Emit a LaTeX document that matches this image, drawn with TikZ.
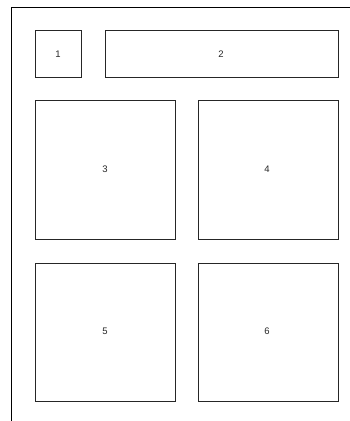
\documentclass[tikz,border=0pt]{standalone}
\usepackage{fontspec}
\setmainfont{Liberation Sans}
\begin{document}
\begin{tikzpicture}[x=1pt,y=-1pt,
  panel/.style={draw=black!85,line width=0.9pt,fill=white},
  lbl/.style={font=\fontsize{9.5}{11}\selectfont,text=black!85}]
\useasboundingbox (0,0) rectangle (350,421);
\fill[white] (0,0) rectangle (350,421);
\draw[line width=1pt] (11.5,421) -- (11.5,7) -- (350,7);
\draw[panel] (35,30.5) rectangle (81,77);
\node[lbl] (n1) at (58,54) {1};
\draw[panel] (105,30.5) rectangle (338,77);
\node[lbl] (n2) at (221,54) {2};
\draw[panel] (35,100) rectangle (175,239);
\node[lbl] (n3) at (105,169) {3};
\draw[panel] (198,100) rectangle (338,239);
\node[lbl] (n4) at (267,169) {4};
\draw[panel] (35,263) rectangle (175,401);
\node[lbl] (n5) at (105,331) {5};
\draw[panel] (198,263) rectangle (338,401);
\node[lbl] (n6) at (267,331) {6};
\end{tikzpicture}
\end{document}
